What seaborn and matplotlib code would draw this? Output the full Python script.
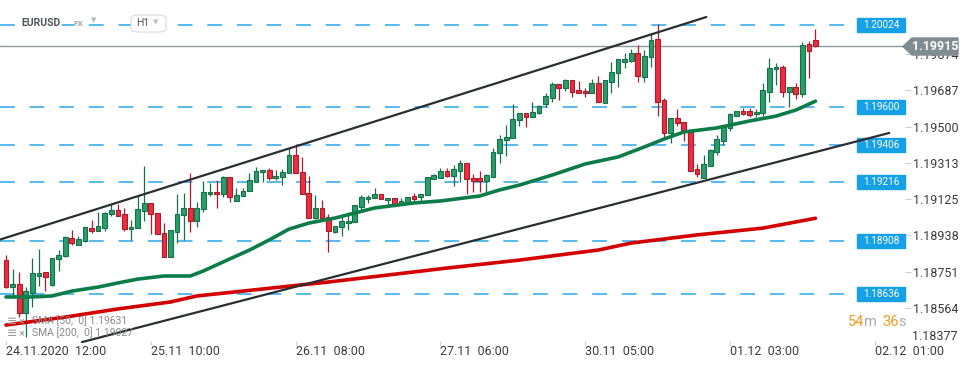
import matplotlib
matplotlib.use("Agg")
import matplotlib.pyplot as plt
from matplotlib.patches import Polygon, Rectangle, FancyBboxPatch
import numpy as np
import pandas as pd
import seaborn as sns

# EURUSD H1 candles, one per hour from 24.11.2020 12:00
opens = [
    1.18811, 1.18672, 1.18688, 1.18538, 1.18641, 1.18729, 1.18750, 1.18682, 1.18817, 1.18832,
    1.18925, 1.18889, 1.18909, 1.18976, 1.18961, 1.18976, 1.19049, 1.19069, 1.19049, 1.18971,
    1.18976, 1.19064, 1.19106, 1.19054, 1.18951, 1.18827, 1.18956, 1.19044, 1.19080, 1.19013,
    1.19075, 1.19152, 1.19162, 1.19152, 1.19240, 1.19116, 1.19142, 1.19167, 1.19214, 1.19265,
    1.19276, 1.19234, 1.19240, 1.19260, 1.19353, 1.19265, 1.19157, 1.19028, 1.19080, 1.19033,
    1.18956, 1.18982, 1.19002, 1.19007, 1.19085, 1.19126, 1.19131, 1.19152, 1.19121, 1.19131,
    1.19095, 1.19106, 1.19142, 1.19137, 1.19147, 1.19229, 1.19234, 1.19271, 1.19245, 1.19271,
    1.19312, 1.19234, 1.19234, 1.19219, 1.19240, 1.19364, 1.19431, 1.19441, 1.19534, 1.19570,
    1.19549, 1.19570, 1.19616, 1.19647, 1.19719, 1.19699, 1.19740, 1.19689, 1.19683, 1.19673,
    1.19724, 1.19622, 1.19730, 1.19776, 1.19833, 1.19838, 1.19880, 1.19755, 1.19859, 1.19952,
    1.19637, 1.19467, 1.19544, 1.19524, 1.19472, 1.19281, 1.19234, 1.19296, 1.19369, 1.19425,
    1.19493, 1.19554, 1.19580, 1.19580, 1.19565, 1.19570, 1.19678, 1.19797, 1.19807, 1.19678,
    1.19704, 1.19668, 1.19926, 1.19947,
]
highs = [
    1.18837, 1.18765, 1.18750, 1.18672, 1.18822, 1.18868, 1.18750, 1.18822, 1.18863, 1.18935,
    1.18966, 1.18935, 1.18982, 1.19018, 1.19059, 1.19059, 1.19100, 1.19100, 1.19080, 1.19018,
    1.19142, 1.19296, 1.19106, 1.19054, 1.19002, 1.18966, 1.19152, 1.19157, 1.19260, 1.19111,
    1.19219, 1.19209, 1.19224, 1.19245, 1.19240, 1.19183, 1.19183, 1.19260, 1.19291, 1.19276,
    1.19286, 1.19276, 1.19281, 1.19389, 1.19405, 1.19343, 1.19245, 1.19147, 1.19121, 1.19049,
    1.18987, 1.19033, 1.19059, 1.19095, 1.19147, 1.19147, 1.19183, 1.19152, 1.19131, 1.19131,
    1.19131, 1.19137, 1.19157, 1.19152, 1.19240, 1.19255, 1.19286, 1.19286, 1.19302, 1.19327,
    1.19312, 1.19255, 1.19271, 1.19255, 1.19389, 1.19456, 1.19508, 1.19616, 1.19570, 1.19570,
    1.19627, 1.19611, 1.19673, 1.19730, 1.19719, 1.19745, 1.19740, 1.19735, 1.19699, 1.19745,
    1.19760, 1.19740, 1.19833, 1.19849, 1.19880, 1.19900, 1.19921, 1.19895, 1.19983, 1.20029,
    1.19647, 1.19544, 1.19591, 1.19524, 1.19472, 1.19307, 1.19353, 1.19384, 1.19456, 1.19498,
    1.19570, 1.19580, 1.19596, 1.19596, 1.19591, 1.19724, 1.19854, 1.19828, 1.19818, 1.19704,
    1.19724, 1.19936, 1.19941, 1.20003,
]
lows = [
    1.18667, 1.18615, 1.18517, 1.18414, 1.18569, 1.18677, 1.18651, 1.18677, 1.18755, 1.18827,
    1.18889, 1.18889, 1.18904, 1.18951, 1.18961, 1.18961, 1.19038, 1.19038, 1.18961, 1.18915,
    1.18976, 1.19013, 1.18946, 1.18946, 1.18827, 1.18827, 1.18899, 1.18915, 1.18956, 1.18982,
    1.19059, 1.19142, 1.19080, 1.19137, 1.19111, 1.19116, 1.19142, 1.19167, 1.19214, 1.19214,
    1.19224, 1.19224, 1.19198, 1.19260, 1.19260, 1.19152, 1.19028, 1.19023, 1.19023, 1.18853,
    1.18951, 1.18935, 1.18966, 1.19007, 1.19059, 1.19106, 1.19131, 1.19126, 1.19090, 1.19090,
    1.19095, 1.19106, 1.19111, 1.19111, 1.19147, 1.19229, 1.19234, 1.19240, 1.19193, 1.19214,
    1.19152, 1.19162, 1.19162, 1.19157, 1.19240, 1.19312, 1.19348, 1.19441, 1.19503, 1.19498,
    1.19549, 1.19565, 1.19601, 1.19627, 1.19637, 1.19683, 1.19652, 1.19673, 1.19652, 1.19673,
    1.19627, 1.19622, 1.19673, 1.19704, 1.19802, 1.19833, 1.19730, 1.19730, 1.19807, 1.19554,
    1.19441, 1.19415, 1.19503, 1.19425, 1.19271, 1.19240, 1.19234, 1.19296, 1.19353, 1.19405,
    1.19477, 1.19554, 1.19560, 1.19549, 1.19549, 1.19554, 1.19627, 1.19714, 1.19652, 1.19601,
    1.19642, 1.19652, 1.19750, 1.19910,
]
closes = [
    1.18672, 1.18688, 1.18538, 1.18651, 1.18745, 1.18745, 1.18724, 1.18822, 1.18837, 1.18930,
    1.18899, 1.18920, 1.18982, 1.18961, 1.18987, 1.19054, 1.19069, 1.19038, 1.18971, 1.18982,
    1.19075, 1.19106, 1.19049, 1.18946, 1.18827, 1.18966, 1.19049, 1.19080, 1.19013, 1.19080,
    1.19162, 1.19162, 1.19152, 1.19240, 1.19137, 1.19147, 1.19167, 1.19224, 1.19271, 1.19276,
    1.19234, 1.19245, 1.19265, 1.19353, 1.19260, 1.19152, 1.19028, 1.19080, 1.19028, 1.18961,
    1.18987, 1.19013, 1.19013, 1.19095, 1.19137, 1.19137, 1.19152, 1.19126, 1.19131, 1.19090,
    1.19116, 1.19137, 1.19126, 1.19152, 1.19240, 1.19250, 1.19271, 1.19245, 1.19281, 1.19312,
    1.19229, 1.19219, 1.19219, 1.19250, 1.19369, 1.19436, 1.19446, 1.19539, 1.19570, 1.19549,
    1.19575, 1.19606, 1.19658, 1.19719, 1.19699, 1.19740, 1.19678, 1.19673, 1.19673, 1.19724,
    1.19627, 1.19740, 1.19782, 1.19849, 1.19849, 1.19880, 1.19760, 1.19864, 1.19947, 1.19627,
    1.19467, 1.19544, 1.19518, 1.19472, 1.19271, 1.19255, 1.19307, 1.19379, 1.19436, 1.19498,
    1.19565, 1.19580, 1.19565, 1.19560, 1.19575, 1.19689, 1.19802, 1.19807, 1.19678, 1.19704,
    1.19668, 1.19921, 1.19890, 1.19915,
]

# moving averages (candle index, price)
sma50_idx = [0, 4, 7, 10, 14, 17, 20, 24, 28, 30, 34, 37, 40, 43, 46, 50, 56, 62, 66,
             72, 75, 78, 83, 88, 93, 97, 100, 103, 108, 113, 117, 120, 123]
sma50_val = [1.18621, 1.18621, 1.18626, 1.18651, 1.18672, 1.18693, 1.18713, 1.18729,
             1.18729, 1.18755, 1.18817, 1.18863, 1.18915, 1.18971, 1.19002, 1.19028,
             1.19080, 1.19106, 1.19116, 1.19142, 1.19173, 1.19198, 1.19250, 1.19307,
             1.19343, 1.19395, 1.19436, 1.19472, 1.19493, 1.19529, 1.19554, 1.19585, 1.19631]
sma200_idx = [0, 9, 17, 25, 29, 49, 67, 78, 90, 95, 105, 115, 123]
sma200_val = [1.18476, 1.18517, 1.18559, 1.18595, 1.18626, 1.18698, 1.18770, 1.18811,
              1.18863, 1.18899, 1.18941, 1.18976, 1.19027]

# trend channel
upper_idx = [-0.91, 106.4]
upper_val = [1.18917, 1.20065]
lower_idx = [11.55, 134.2]
lower_val = [1.18388, 1.19467]

levels = [1.20024, 1.19600, 1.19406, 1.19216, 1.18908, 1.18636]
last_price = 1.19915
y_ticks = [1.18377, 1.18564, 1.18751, 1.18938, 1.19125, 1.19313, 1.19500, 1.19687, 1.19874]
x_tick_pos = [0, 22, 44, 66, 88, 110, 132]
x_tick_labels = ["24.11.2020  12:00", "25.11  10:00", "26.11  08:00", "27.11  06:00",
                 "30.11  05:00", "01.12  03:00", "02.12  01:00"]

GREEN, GREEN_EDGE = "#2a9d6b", "#16704a"
RED, RED_EDGE = "#ee2b3f", "#a71d2c"
LEVEL_BLUE, BOX_BLUE = "#4ab4ee", "#16a1e6"

sns.set_theme(style="white")
plt.rcParams["font.family"] = ["Roboto", "DejaVu Sans"]

W, H = 974, 368


def px(x, y):
    return x / W, 1 - y / H


fig = plt.figure(figsize=(W / 100, H / 100), dpi=100)
ax = fig.add_axes([0, 23 / H, 905 / W, 345 / H])
ax.set_xlim(-0.91, 136.6)
ax.set_ylim(1.18373, 1.20153)

df = pd.DataFrame({"o": opens, "h": highs, "l": lows, "c": closes})
df["i"] = np.arange(len(df))
up = df["c"] >= df["o"]
for mask, face, edge in [(up, GREEN, GREEN_EDGE), (~up, RED, RED_EDGE)]:
    d = df[mask]
    ax.vlines(d["i"], d["l"], d["h"], color=edge, lw=0.9, zorder=3)
    body = (d["c"] - d["o"]).abs().clip(lower=0.00004)
    ax.bar(d["i"], body, bottom=np.minimum(d["o"], d["c"]), width=0.72,
           color=face, edgecolor=edge, linewidth=0.8, zorder=4)

# support / resistance levels
for lv in levels:
    ax.axhline(lv, xmin=0, xmax=857 / 905, color=LEVEL_BLUE, lw=1.3,
               dashes=(8.2, 8.2), zorder=2)
    ax.add_patch(Rectangle((857 / 905, lv - 0.00036), 48 / 905, 0.00072,
                           transform=ax.get_yaxis_transform(), color=BOX_BLUE,
                           zorder=7, clip_on=False))
    ax.text(881 / 905, lv, f"{lv:.5f}", transform=ax.get_yaxis_transform(),
            ha="center", va="center", color="white", fontsize=7.2, zorder=8)

ax.axhline(last_price, color="#8d999e", lw=1.0, zorder=2)

sns.lineplot(x=sma200_idx, y=sma200_val, ax=ax, color="#d40000", lw=2.6, zorder=5)
sns.lineplot(x=sma50_idx, y=sma50_val, ax=ax, color="#0c7c48", lw=2.6, zorder=5)
ax.plot(upper_idx, upper_val, color="#2a2e33", lw=1.6, zorder=9)
ax.plot(lower_idx, lower_val, color="#2a2e33", lw=1.6, zorder=9)

sns.despine(ax=ax, left=True, bottom=True, right=True, top=True)
ax.yaxis.tick_right()
# the lowest price label sits a little higher, clear of the time axis
ax.set_yticks(y_ticks[1:])
ax.set_yticklabels([f"{v:.5f}" for v in y_ticks[1:]])
ax.tick_params(axis="y", right=True, length=4, width=0.8, color="#d0d0d0", pad=2,
               labelsize=9, labelcolor="#3c3c3c")
fig.text(*px(912, 337), f"{y_ticks[0]:.5f}", ha="left", va="center",
         fontsize=9, color="#3c3c3c")
ax.set_xticks(x_tick_pos)
ax.set_xticklabels(x_tick_labels, ha="left")
ax.tick_params(axis="x", bottom=True, direction="in", length=3, width=0.8,
               color="#d0d0d0", pad=0, labelsize=9, labelcolor="#3c3c3c")
ax.set_xlabel("")
ax.set_ylabel("")

# last price tag
tag = [(903, 46.5), (912, 38), (958, 38), (958, 55), (912, 55)]
fig.add_artist(Polygon([px(x, y) for x, y in tag], closed=True,
                       transform=fig.transFigure, color="#7f8c91", zorder=10))
fig.text(*px(935, 46.5), f"{last_price:.5f}", ha="center", va="center",
         color="white", fontsize=9, fontweight="bold", zorder=11)

# header
fig.text(*px(21, 23), "EURUSD", ha="left", va="center", fontsize=7.5,
         fontweight="bold", color="#4d565c",
         bbox=dict(boxstyle="square,pad=0.15", fc="white", ec="none"))
fig.text(*px(74, 24), "FX", ha="left", va="center", fontsize=6,
         fontweight="bold", color="#a0a8ad")
fig.text(*px(91, 21), "▼", ha="left", va="center", fontsize=5, color="#b0b8bc")
x0, y0 = px(131, 32)
x1, y1 = px(166, 15)
fig.add_artist(FancyBboxPatch((x0, y0), x1 - x0, y1 - y0,
                              boxstyle="round,pad=0,rounding_size=0.008",
                              transform=fig.transFigure, fc="white", ec="#d8dde0",
                              lw=0.8, zorder=10))
fig.text(*px(136, 23.5), "H1", ha="left", va="center", fontsize=7.5,
         color="#555555", zorder=11)
fig.text(*px(153, 23), "▼", ha="left", va="center", fontsize=5,
         color="#b8bfc3", zorder=11)

# indicator legend
for yy, label in [(321, "SMA [50,  0] 1.19631"), (333, "SMA [200,  0] 1.19027")]:
    fig.text(*px(7, yy), "≡", ha="left", va="center", fontsize=9, color="#9a9a9a")
    fig.text(*px(19, yy), "×", ha="left", va="center", fontsize=8, color="#9a9a9a")
    fig.text(*px(32, yy), label, ha="left", va="center", fontsize=7.5, color="#8a8a8a")

# candle countdown
for xx, txt, col in [(848, "54", "#f39a1e"), (864, "m", "#aaaaaa"),
                     (882, "36", "#f39a1e"), (898, "s", "#aaaaaa")]:
    fig.text(*px(xx, 322), txt, ha="left", va="center", fontsize=10.5, color=col)

fig.savefig("out.png", dpi=100, facecolor="white")
